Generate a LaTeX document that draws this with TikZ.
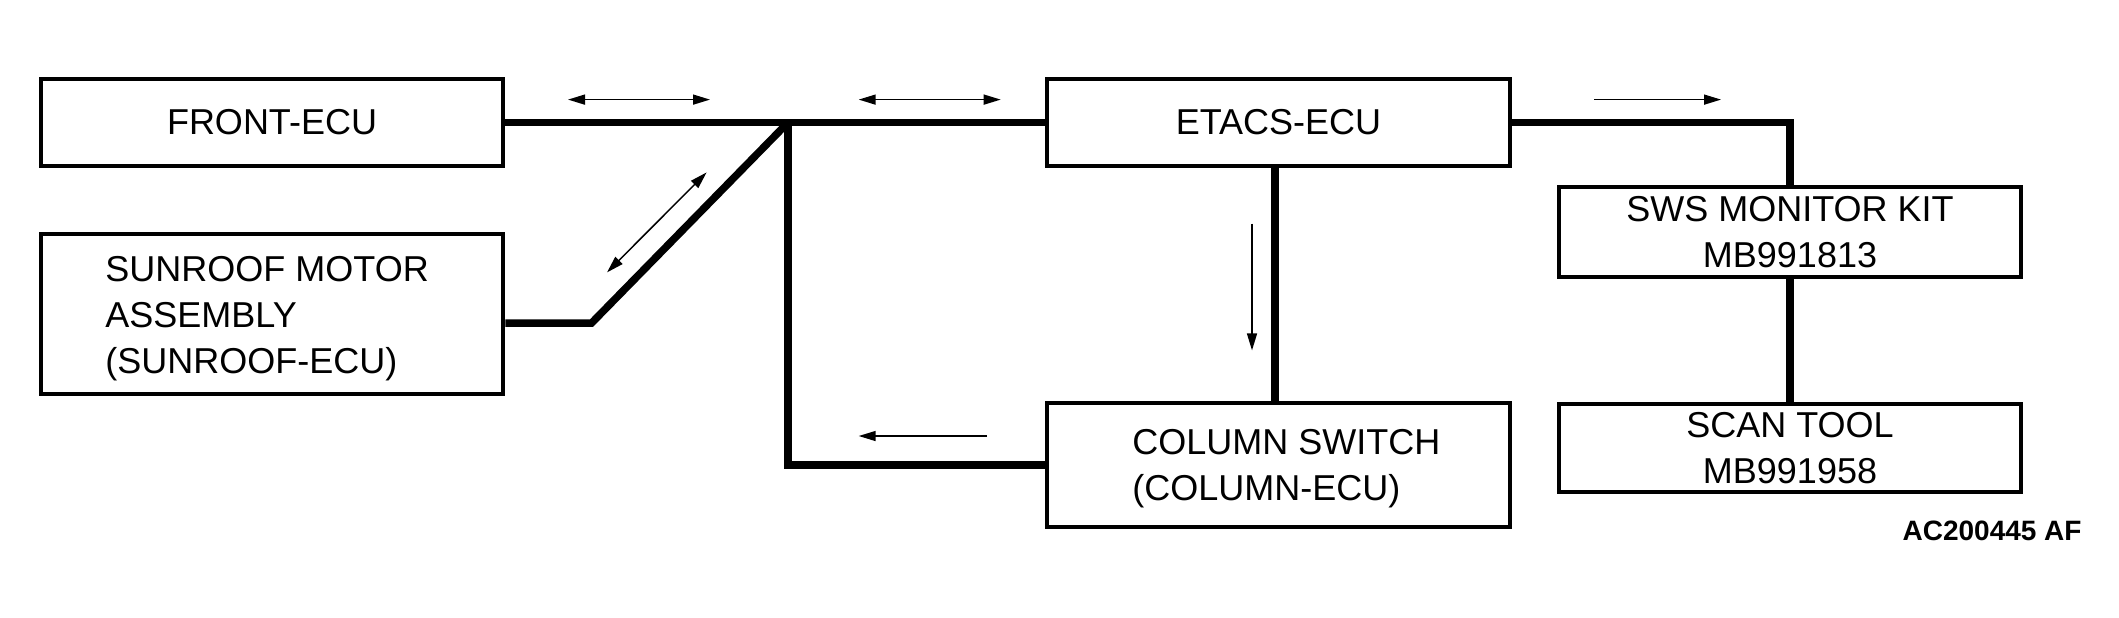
\documentclass[tikz,border=0pt]{standalone}
\usepackage{fontspec}
\setmainfont{Liberation Sans}
\usetikzlibrary{arrows.meta}
\begin{document}
\begin{tikzpicture}[x=0.5pt,y=-0.5pt,
  ecubox/.style={draw=black,line width=2pt,minimum width=231.25pt,inner sep=0pt,
    font=\fontsize{18}{23}\selectfont,align=center},
  boxtext/.style={inner sep=0pt,font=\fontsize{18}{23}\selectfont,align=left,anchor=west},
  bus/.style={line width=3.75pt,line join=miter},
  sig/.style={line width=0.75pt,-{Triangle[length=8.5pt,width=5pt]}},
  sigboth/.style={line width=0.75pt,{Triangle[length=8.5pt,width=5pt]}-{Triangle[length=8.5pt,width=5pt]}},
  code/.style={inner sep=0pt,font=\fontsize{14}{16}\selectfont\bfseries,anchor=east}]
\path[use as bounding box,fill=white] (0,0) rectangle (2119,617);

% boxes
\node[ecubox,minimum height=43.75pt] (front) at (272,122.5) {FRONT-ECU};
\node[ecubox,minimum height=79.8pt] (sun) at (272,314) {};
\node[boxtext] (suntxt) at (105,318.5) {SUNROOF MOTOR\\ASSEMBLY\\(SUNROOF-ECU)};
\node[ecubox,minimum height=43.75pt] (etacs) at (1278.5,122.5) {ETACS-ECU};
\node[ecubox,minimum height=62pt] (col) at (1278.5,465) {};
\node[boxtext] (coltxt) at (1132,468.5) {COLUMN SWITCH\\(COLUMN-ECU)};
\node[ecubox,minimum height=45pt] (sws) at (1790,232) {SWS MONITOR KIT\\MB991813};
\node[ecubox,minimum height=44pt] (scan) at (1790,448) {SCAN TOOL\\MB991958};
\node[code] (code) at (2082,531) {AC200445 AF};

% bus lines
\coordinate (J) at (788,122.5);
\coordinate (K) at (591.6,323);
\draw[bus] (front.east) -- (J) -- (etacs.west);
\draw[bus] (J) |- (col.west);
\draw[bus] (sun.east |- K) -- (K) -- (J);
\draw[bus] (etacs.east) -| (sws.north);
\draw[bus] (sws.south) -- (scan.north);
\draw[bus] (etacs.south -| 1275,0) -- (col.north -| 1275,0);

% signal arrows
\coordinate (a1) at (568,99.6);   \coordinate (a2) at (710,99.6);
\coordinate (b1) at (858.7,99.6); \coordinate (b2) at (1000.7,99.6);
\coordinate (c1) at (607,272.4);  \coordinate (c2) at (706.6,172.4);
\coordinate (d1) at (987,436);    \coordinate (d2) at (858.7,436);
\coordinate (e1) at (1252,223.6); \coordinate (e2) at (1252,350.4);
\coordinate (f1) at (1594,99.6);  \coordinate (f2) at (1721,99.6);
\draw[sigboth] (a1) -- (a2);
\draw[sigboth] (b1) -- (b2);
\draw[sigboth] (c1) -- (c2);
\draw[sig] (d1) -- (d2);
\draw[sig] (e1) -- (e2);
\draw[sig] (f1) -- (f2);
\end{tikzpicture}
\end{document}
